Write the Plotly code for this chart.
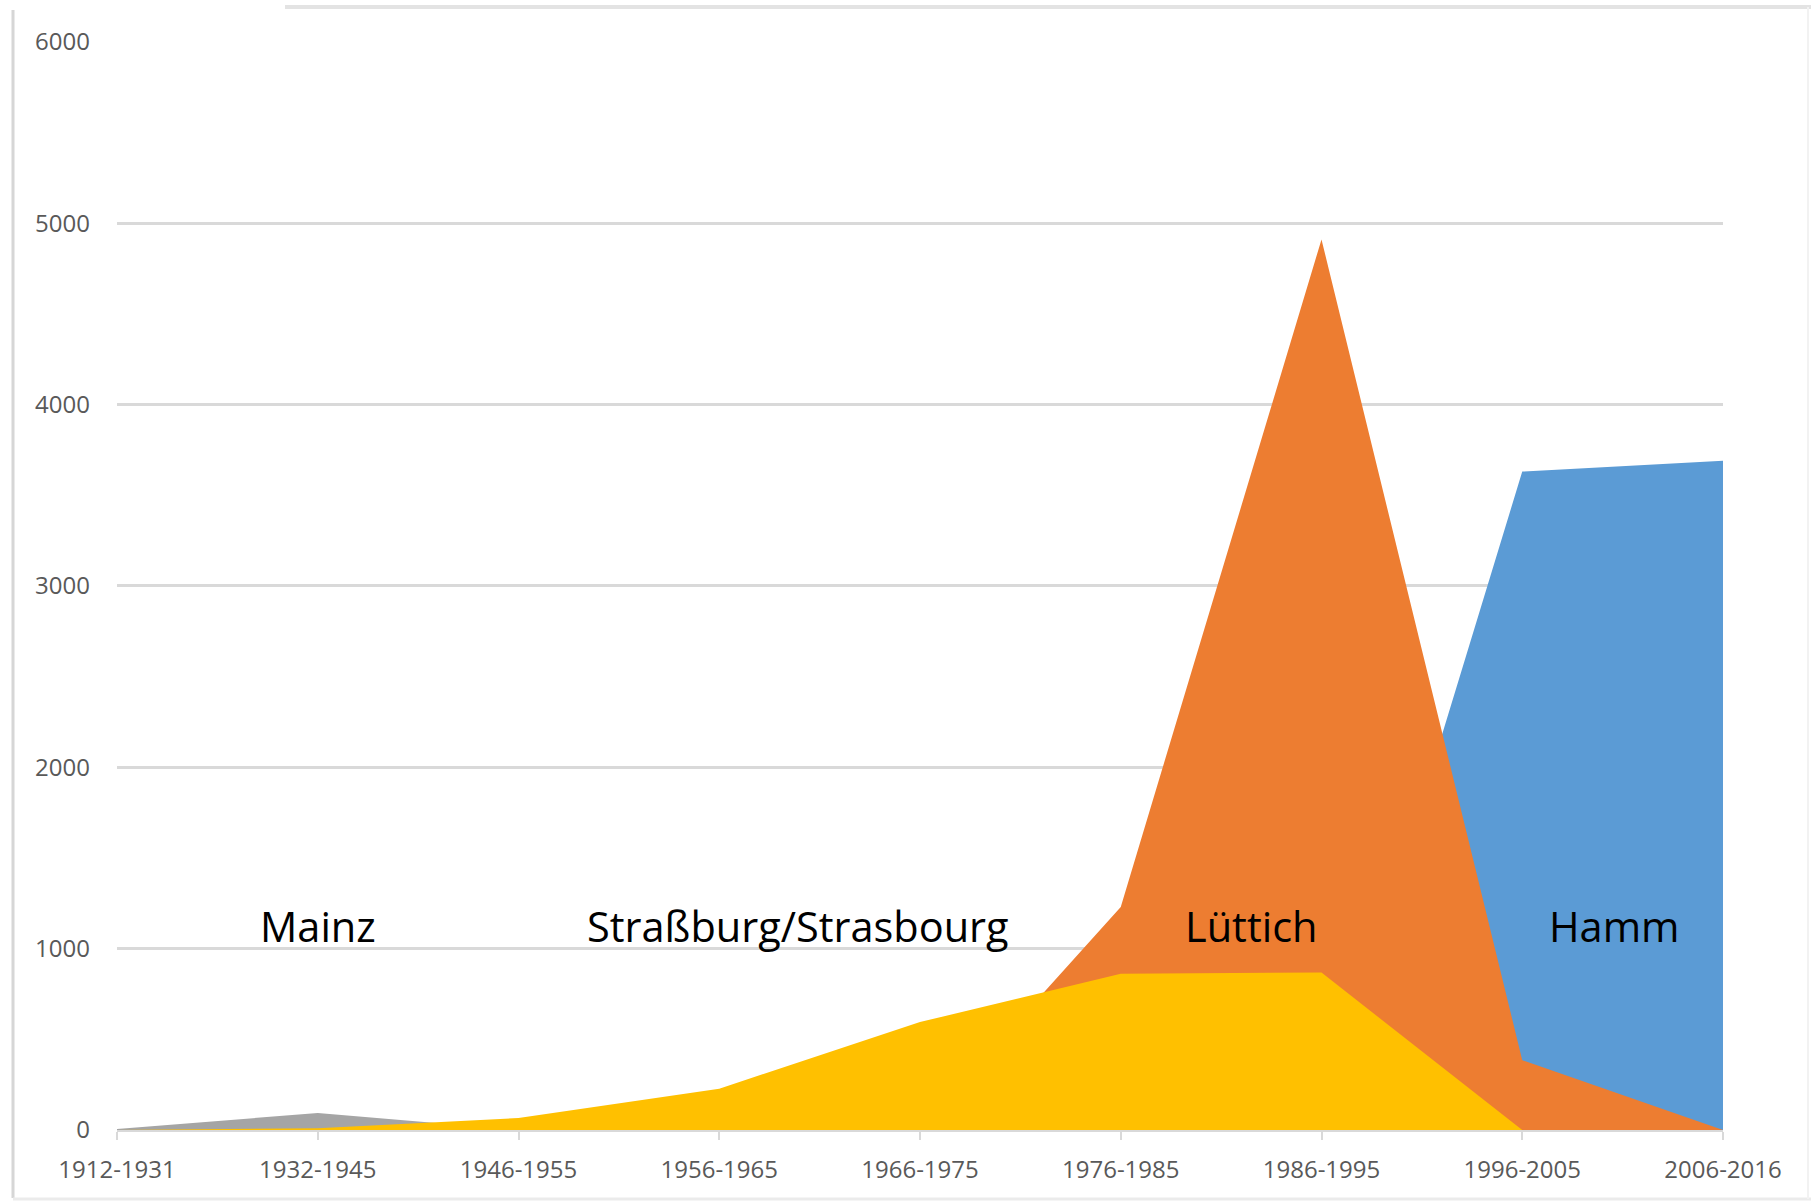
import plotly.graph_objects as go

categories = ["1912-1931", "1932-1945", "1946-1955", "1956-1965", "1966-1975",
              "1976-1985", "1986-1995", "1996-2005", "2006-2016"]
mainz = [5, 94, 0, 0, 0, 0, 0, 0, 0]
hamm = [0, 0, 0, 0, 0, 0, 0, 3630, 3690]
luettich = [0, 0, 0, 0, 0, 1230, 4910, 385, 0]
strassburg = [0, 10, 66, 228, 595, 862, 868, 0, 0]
y_ticks = [0, 1000, 2000, 3000, 4000, 5000, 6000]

labels = ["Mainz", "Straßburg/Strasbourg", "Lüttich", "Hamm"]
label_x = [1.0, 3.39, 5.65, 7.46]
label_y = [1125, 1125, 1125, 1125]

series = [
    ("Mainz", mainz, "#A5A5A5"),
    ("Hamm", hamm, "#5B9BD5"),
    ("Lüttich", luettich, "#ED7D31"),
    ("Straßburg/Strasbourg", strassburg, "#FFC000"),
]

fig = go.Figure()
for name, vals, col in series:
    fig.add_trace(go.Scatter(
        x=categories, y=vals, name=name, mode="lines",
        line=dict(width=0, color=col), fill="tozeroy", fillcolor=col,
        hoverinfo="x+y+name",
    ))

for t, xv, yv in zip(labels, label_x, label_y):
    fig.add_annotation(x=xv, y=yv, text=t, showarrow=False,
                       xanchor="center", yanchor="middle",
                       font=dict(family="Open Sans", size=41.5, color="#000000"))

W, H = 1811, 1203
L, R, T, B = 117, 88, 41, 73

fig.update_layout(
    width=W, height=H,
    margin=dict(l=L, r=R, t=T, b=B),
    paper_bgcolor="white", plot_bgcolor="white",
    showlegend=False,
    xaxis=dict(
        type="category", range=[0, len(categories) - 1],
        showgrid=False, zeroline=False,
        showline=True, linecolor="#d9d9d9", linewidth=2,
        ticks="outside", ticklen=8, tickcolor="#d9d9d9", tickwidth=2,
        ticklabelstandoff=9,
        tickfont=dict(family="Open Sans", size=24, color="#595959"),
    ),
    yaxis=dict(
        range=[0, 6004], tickvals=y_ticks,
        showgrid=True, gridcolor="#d9d9d9", gridwidth=3,
        zeroline=False, showline=False, ticks="",
        ticklabelstandoff=26,
        tickfont=dict(family="Open Sans", size=24, color="#595959"),
    ),
)

# frame lines of the original picture (pixel offsets from plot area)
pw, ph = W - L - R, H - T - B
def px(X):
    return (X - L) / pw
def py(Y):
    return (H - B - Y) / ph

frame = [
    (13, 10, 13, 1198, "#d6d6d6", 3),
    (285, 7, 1811, 7, "#e3e3e3", 4),
    (13, 1199, 1811, 1199, "#ebebeb", 3),
    (1808, 7, 1808, 1199, "#f2f2f2", 2),
]
for x0, y0, x1, y1, c, w in frame:
    fig.add_shape(type="line", xref="paper", yref="paper",
                  x0=px(x0), y0=py(y0), x1=px(x1), y1=py(y1),
                  line=dict(color=c, width=w), layer="above")

fig.write_html("out.html",
               config={"displayModeBar": False},
               post_script="document.body.style.margin='0';document.body.style.overflow='hidden';")
